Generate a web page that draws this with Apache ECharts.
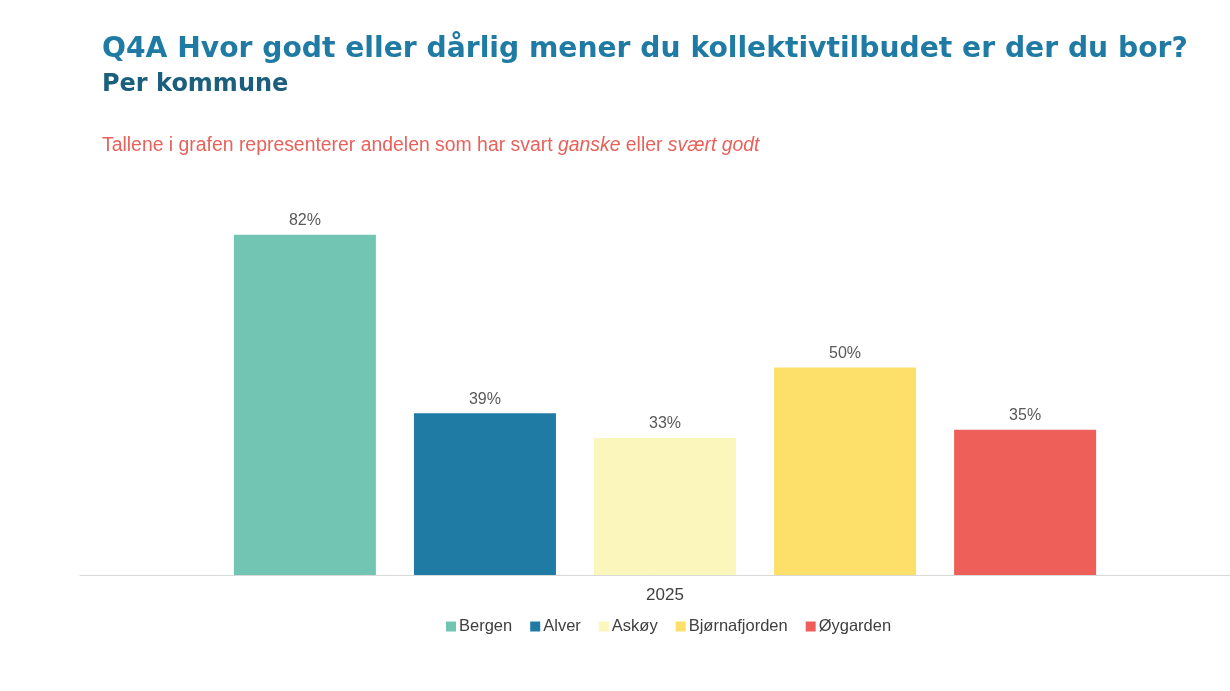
<!DOCTYPE html>
<html>
<head>
<meta charset="utf-8">
<script src="https://cdn.jsdelivr.net/npm/echarts@6/dist/echarts.min.js"></script>
<style>
  html, body { margin: 0; padding: 0; background: #fff; }
  #main { width: 1230px; height: 691px; }
</style>
</head>
<body>
<div id="main"></div>
<script>
var categories = ['2025'];
var kommuner = ['Bergen', 'Alver', 'Askøy', 'Bjørnafjorden', 'Øygarden'];
var andel = [82, 39, 33, 50, 35];
var farger = ['#72c4b3', '#1f7ba3', '#fbf6bc', '#fde06a', '#ef5f5a'];

var myChart = echarts.init(document.getElementById('main'));

var series = kommuner.map(function (navn, i) {
    return {
        name: navn,
        type: 'bar',
        barWidth: 142,
        barGap: '26.8%',
        itemStyle: { color: farger[i] },
        label: {
            show: true,
            position: 'top',
            distance: 6,
            formatter: '{c}%',
            color: '#595959',
            fontSize: 16,
            fontFamily: 'Liberation Sans'
        },
        data: [andel[i]]
    };
});

option = {
    backgroundColor: '#fff',
    title: [
        {
            text: 'Q4A Hvor godt eller dårlig mener du kollektivtilbudet er der du bor?',
            left: 97,
            top: 31,
            textStyle: { color: '#1f7ba3', fontSize: 28.2, fontWeight: 'bold', fontFamily: 'DejaVu Sans' }
        },
        {
            text: 'Per kommune',
            left: 97,
            top: 68,
            textStyle: { color: '#1b5f7d', fontSize: 24, fontWeight: 'bold', fontFamily: 'DejaVu Sans' }
        },
        {
            text: 'Tallene i grafen representerer andelen som har svart {i|ganske} eller {i|svært godt}',
            left: 97,
            top: 131,
            textStyle: {
                color: '#e8615a', fontSize: 19.4, fontWeight: 'normal', fontFamily: 'Liberation Sans',
                rich: { i: { fontStyle: 'italic', color: '#e8615a', fontSize: 19.4, fontFamily: 'Liberation Sans' } }
            }
        }
    ],
    legend: {
        data: kommuner,
        bottom: 51,
        left: 441,
        itemWidth: 10,
        itemHeight: 10,
        itemGap: 18,
        icon: 'rect',
        textStyle: { color: '#404040', fontSize: 16.5, fontFamily: 'Liberation Sans', padding: [0, 0, 0, -2] }
    },
    grid: {
        left: 80,
        width: 1170,
        top: 160,
        bottom: 116,
        outerBoundsMode: 'none',
        containLabel: false
    },
    xAxis: [
        {
            type: 'category',
            data: categories,
            axisLine: { lineStyle: { color: '#d9d9d9' } },
            axisTick: { show: false },
            axisLabel: { color: '#404040', fontSize: 17, margin: 12, fontFamily: 'Liberation Sans' }
        }
    ],
    yAxis: [
        {
            type: 'value',
            min: 0,
            max: 100,
            show: false,
            splitLine: { show: false }
        }
    ],
    series: series
};

myChart.setOption(option);
</script>
</body>
</html>
